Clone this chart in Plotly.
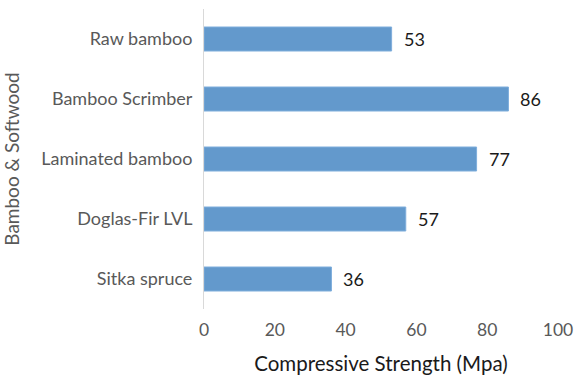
import plotly.graph_objects as go

# Compressive strength of bamboo products and softwoods
materials = ["Raw bamboo", "Bamboo Scrimber", "Laminated bamboo", "Doglas-Fir LVL", "Sitka spruce"]
strength = [53, 86, 77, 57, 36]
x_ticks = [0, 20, 40, 60, 80, 100]

FONT = "Lato, Calibri, sans-serif"
GRAY = "#595959"

fig = go.Figure(
    go.Bar(
        x=strength,
        y=materials,
        orientation="h",
        marker=dict(color="#6399CC", line=dict(color="#7FAEDC", width=1)),
        width=0.4,
        hoverinfo="x+y",
    )
)

# value labels placed just past each bar end
for name, val in zip(materials, strength):
    fig.add_annotation(
        x=val, y=name, text=str(val), showarrow=False,
        xanchor="left", yanchor="middle", xshift=10,
        font=dict(family=FONT, size=18, color="#1a1a1a"),
    )

fig.update_layout(
    width=578, height=375,
    margin=dict(l=204, r=20, t=9, b=66),
    paper_bgcolor="white", plot_bgcolor="white",
    showlegend=False,
    font=dict(family=FONT, size=16, color=GRAY),
)
fig.update_xaxes(
    range=[0, 100], tickvals=x_ticks, showgrid=False, zeroline=False,
    showline=False, ticks="", tickfont=dict(size=17.5, color=GRAY),
    ticklabelstandoff=8, automargin=False,
    title=dict(text="Compressive Strength (Mpa)", font=dict(size=20.5, color="#1a1a1a"), standoff=18),
    fixedrange=True,
)
fig.update_yaxes(
    categoryorder="array", categoryarray=materials[::-1],
    showgrid=False, zeroline=False, showline=True, linecolor="#D9D9D9", linewidth=1,
    ticks="", ticklabelstandoff=7, tickfont=dict(size=18, color=GRAY), automargin=False,
    title=dict(text="Bamboo & Softwood", font=dict(size=19, color=GRAY), standoff=16),
    fixedrange=True,
)

fig.write_html("out.html", config={"displayModeBar": False})
